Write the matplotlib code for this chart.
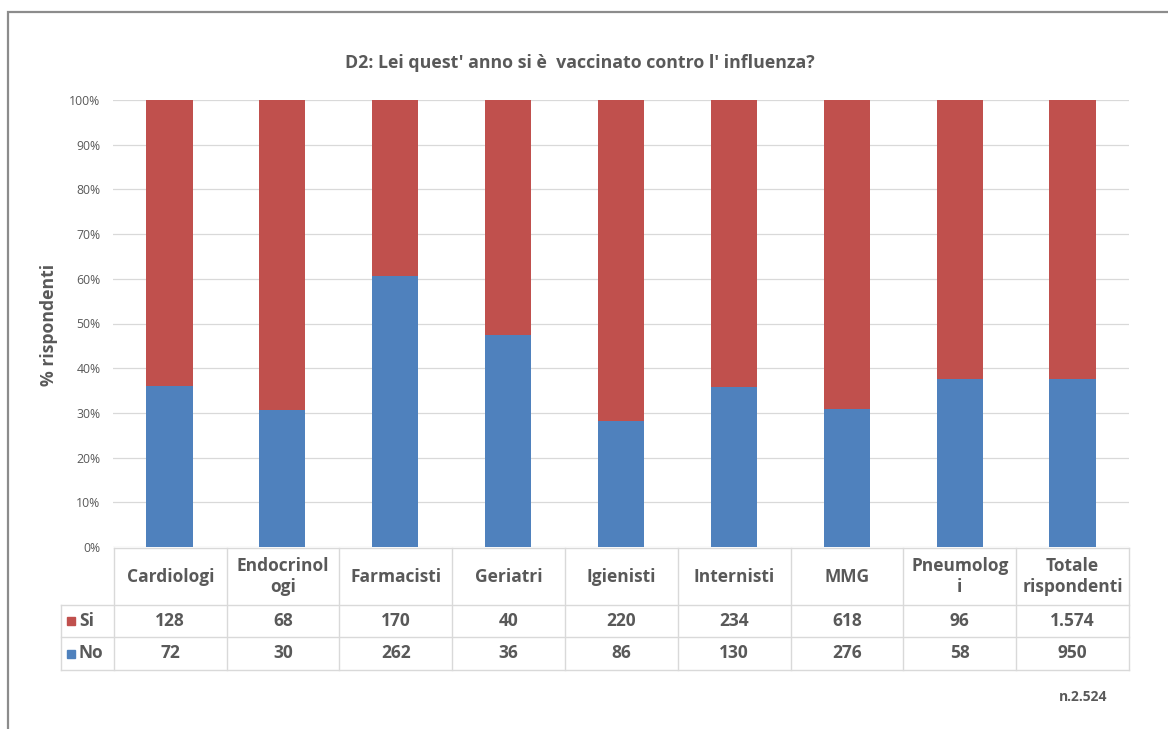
import matplotlib
matplotlib.use("Agg")
import matplotlib.pyplot as plt
from matplotlib.patches import Rectangle

# --- data -------------------------------------------------------------
categories = ["Cardiologi", "Endocrinologi", "Farmacisti", "Geriatri",
              "Igienisti", "Internisti", "MMG", "Pneumologi",
              "Totale rispondenti"]
header_labels = ["Cardiologi", "Endocrinol\nogi", "Farmacisti", "Geriatri",
                 "Igienisti", "Internisti", "MMG", "Pneumolog\ni",
                 "Totale\nrispondenti"]
si_counts = [128, 68, 170, 40, 220, 234, 618, 96, 1574]
no_counts = [72, 30, 262, 36, 86, 130, 276, 58, 950]
series_names = ["Si", "No"]
yticks = [0, 0.1, 0.2, 0.3, 0.4, 0.5, 0.6, 0.7, 0.8, 0.9, 1.0]
title = "D2: Lei quest' anno si è  vaccinato contro l' influenza?"
ylabel = "% rispondenti"
note = "n.2.524"

# --- styling ------------------------------------------------------------
RED = "#C0504D"
BLUE = "#4F81BD"
GRID = "#D9D9D9"
TXT = "#595959"
FONT = ["Open Sans", "DejaVu Sans"]
plt.rcParams["font.family"] = FONT

W, H = 1168, 729
fig = plt.figure(figsize=(W / 100, H / 100), dpi=100)


def fig_rect(left, top, right, bottom):
    return [left / W, 1 - bottom / H, (right - left) / W, (bottom - top) / H]


def fmt_it(n):
    return f"{n:,}".replace(",", ".")


# outer chart frame
fig.patches.append(Rectangle((8 / W, -0.05), 1.1, 1 - 12 / H + 0.05,
                             transform=fig.transFigure, fill=False,
                             edgecolor="#8C8C8C", linewidth=1.6, zorder=0))

# --- stacked 100% bars --------------------------------------------------
ax = fig.add_axes(fig_rect(113, 100, 1129, 547))
x = list(range(len(categories)))
totals = [s + n for s, n in zip(si_counts, no_counts)]
no_share = [n / t for n, t in zip(no_counts, totals)]
si_share = [s / t for s, t in zip(si_counts, totals)]
bw = 0.41
ax.bar(x, no_share, width=bw, color=BLUE, zorder=3, label=series_names[1])
ax.bar(x, si_share, width=bw, bottom=no_share, color=RED, zorder=3,
       label=series_names[0])
ax.set_xlim(-0.5, len(categories) - 0.5)
ax.set_ylim(0, 1)
ax.set_yticks(yticks)
ax.set_yticklabels([f"{int(round(v * 100))}%" for v in yticks])
ax.tick_params(axis="y", length=0, pad=9, labelsize=8.8, labelcolor=TXT)
ax.set_xticks([])
for v in yticks:
    ax.axhline(v, color=GRID, linewidth=0.9, zorder=1)
for s in ax.spines.values():
    s.set_visible(False)

fig.text(49 / W, 1 - 325 / H, ylabel, rotation=90, ha="center", va="center",
         fontsize=12.7, fontweight="bold", color=TXT)
fig.text(580 / W, 1 - 63 / H, title, ha="center", va="center",
         fontsize=12.8, fontweight="bold", color=TXT)

# --- data table below the bars -----------------------------------------
leg_w = 53 / 113
tab = fig.add_axes(fig_rect(61, 548, 1129, 670))
x_left = -0.5 - leg_w
x_right = len(categories) - 0.5
tab.set_xlim(x_left, x_right)
tab.set_ylim(122, 0)
tab.axis("off")
row_edges = [0, 57, 89, 122]
lw = 1.0
tab.plot([-0.5, x_right], [0, 0], color=GRID, lw=lw, clip_on=False)
for yy in row_edges[1:]:
    tab.plot([x_left, x_right], [yy, yy], color=GRID, lw=lw, clip_on=False)
for i in range(len(categories) + 1):
    xx = -0.5 + i
    tab.plot([xx, xx], [0, 122], color=GRID, lw=lw, clip_on=False)
tab.plot([x_left, x_left], [57, 122], color=GRID, lw=lw, clip_on=False)

for i, lab in enumerate(header_labels):
    tab.text(i, 28.5, lab, ha="center", va="center", fontsize=12.5,
             fontweight="bold", color=TXT, linespacing=1.25)

row_y = [(57 + 89) / 2, (89 + 122) / 2]
for r, (name, color, vals) in enumerate(
        [(series_names[0], RED, si_counts), (series_names[1], BLUE, no_counts)]):
    tab.plot([x_left + 10 / 113], [row_y[r]], marker="s", markersize=6,
             color=color, linestyle="none", clip_on=False)
    tab.text(x_left + 18 / 113, row_y[r], name, ha="left", va="center",
             fontsize=12.5, fontweight="bold", color=TXT)
    for i, v in enumerate(vals):
        tab.text(i, row_y[r], fmt_it(v), ha="center", va="center",
                 fontsize=12.5, fontweight="bold", color=TXT)

fig.text(1083 / W, 1 - 697 / H, note, ha="center", va="center",
         fontsize=10, fontweight="bold", color=TXT)

fig.savefig("out.png", dpi=100)
